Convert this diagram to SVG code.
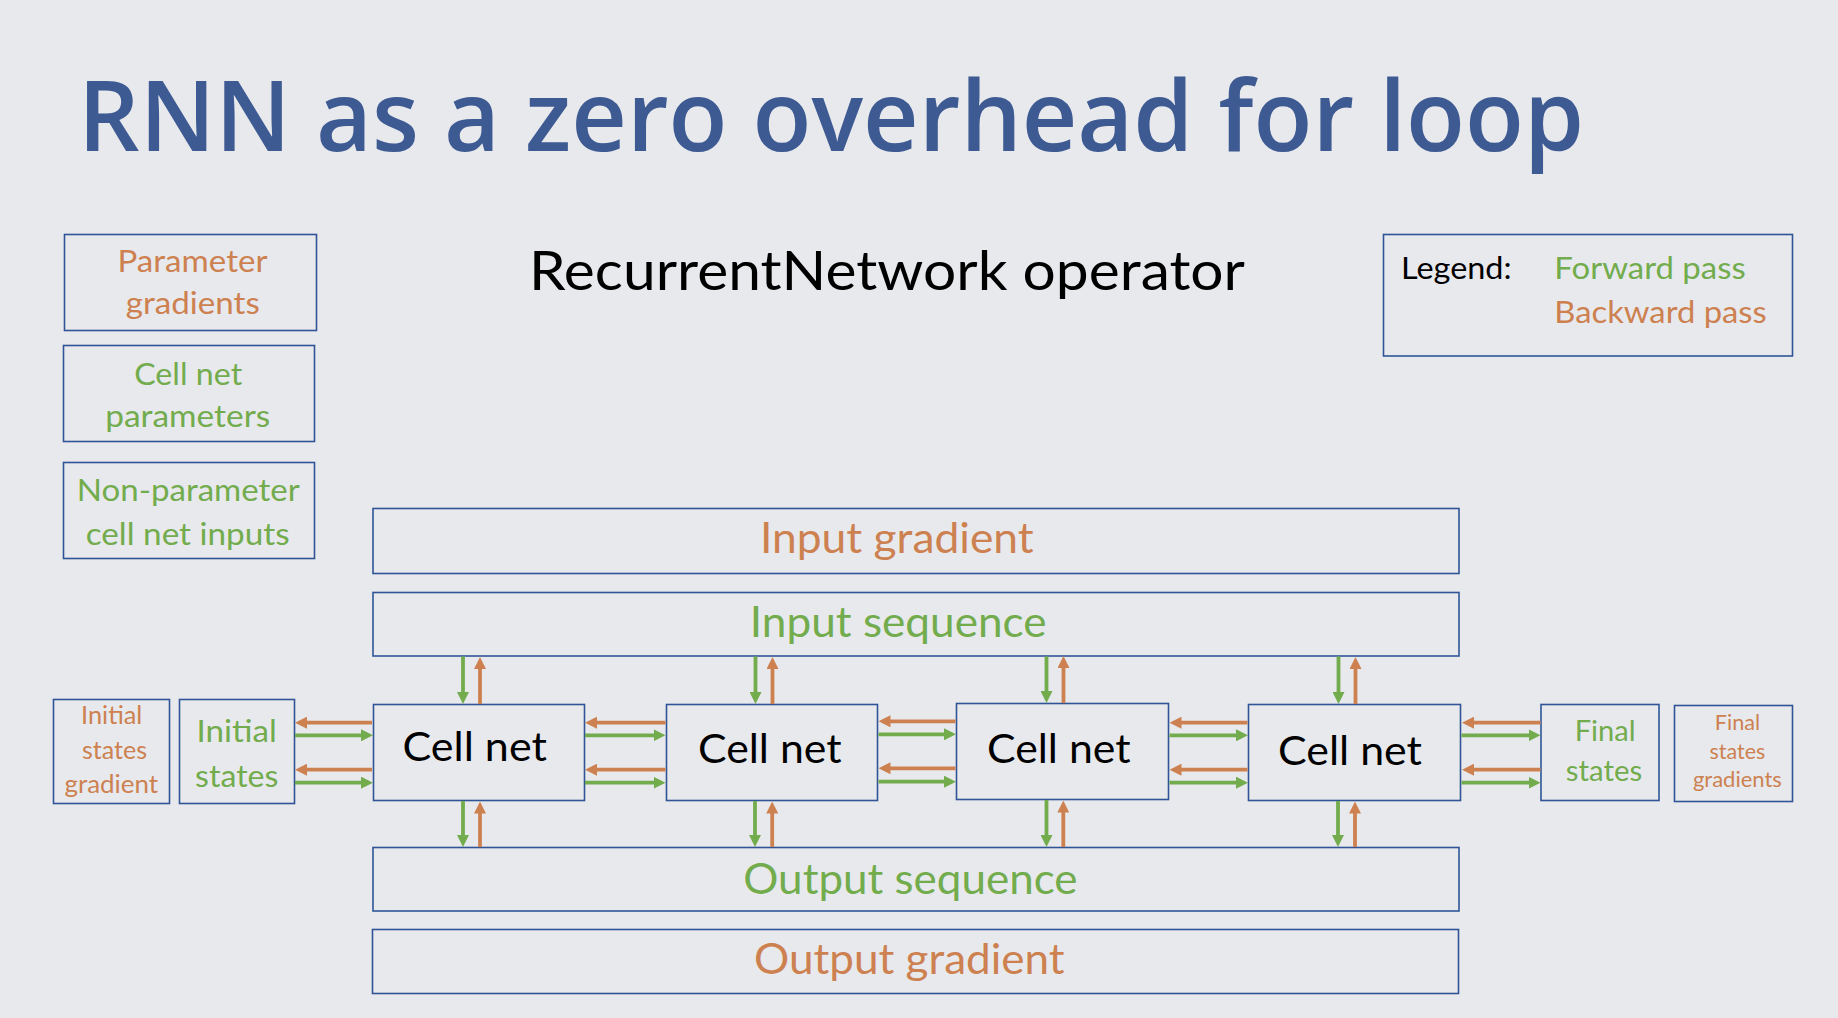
<svg xmlns="http://www.w3.org/2000/svg" width="1838" height="1018" viewBox="0 0 1838 1018">
<defs>
<style>
.bx{fill:none;stroke:#2F5597;stroke-width:1.6}
.t{font-family:Lato,"Liberation Sans",sans-serif;text-anchor:middle}
.g{fill:#72AC4D}
.o{fill:#CD8150}
.k{fill:#000}
.fw{stroke:#72AC4D;stroke-width:3.8;fill:none;marker-end:url(#ag)}
.bw{stroke:#CD8150;stroke-width:3.8;fill:none;marker-end:url(#ao)}
</style>
<marker id="ag" markerUnits="userSpaceOnUse" viewBox="0 0 12 12" markerWidth="12" markerHeight="12" refX="4" refY="6" orient="auto"><path d="M0,0 L12,6 L0,12 z" fill="#72AC4D"/></marker>
<marker id="ao" markerUnits="userSpaceOnUse" viewBox="0 0 12 12" markerWidth="12" markerHeight="12" refX="4" refY="6" orient="auto"><path d="M0,0 L12,6 L0,12 z" fill="#CD8150"/></marker>
</defs>
<rect width="1838" height="1018" fill="#E8E9ED"/>

<text x="78" y="151" font-family="'Open Sans',Lato,sans-serif" font-weight="600" font-size="98" fill="#3E5A92" textLength="1506" lengthAdjust="spacingAndGlyphs">RNN as a zero overhead for loop</text>

<text class="t k" x="887" y="289.5" font-size="54" textLength="716" lengthAdjust="spacingAndGlyphs">RecurrentNetwork operator</text>

<g id="param-gradients">
<rect class="bx" x="64.5" y="234.5" width="252" height="96"/>
<text class="t o" x="192.5" y="271.5" font-size="31.5" textLength="150" lengthAdjust="spacingAndGlyphs">Parameter</text>
<text class="t o" x="192.8" y="313.5" font-size="31.5" textLength="134" lengthAdjust="spacingAndGlyphs">gradients</text>
</g>
<g id="cell-net-params">
<rect class="bx" x="63.5" y="345.5" width="251" height="96"/>
<text class="t g" x="188.2" y="384.5" font-size="31.5" textLength="108" lengthAdjust="spacingAndGlyphs">Cell net</text>
<text class="t g" x="187.7" y="427" font-size="31.5" textLength="165" lengthAdjust="spacingAndGlyphs">parameters</text>
</g>
<g id="non-param-inputs">
<rect class="bx" x="63.5" y="462.5" width="251" height="96"/>
<text class="t g" x="188.3" y="501.2" font-size="31.5" textLength="223" lengthAdjust="spacingAndGlyphs">Non-parameter</text>
<text class="t g" x="187.7" y="544.5" font-size="31.5" textLength="204" lengthAdjust="spacingAndGlyphs">cell net inputs</text>
</g>
<g id="legend">
<rect class="bx" x="1383.5" y="234.5" width="409" height="121.5"/>
<text class="t k" x="1456.3" y="279.3" font-size="31.5" textLength="110.7" lengthAdjust="spacingAndGlyphs">Legend:</text>
<text class="t g" x="1650" y="279.3" font-size="31.5" textLength="191.4" lengthAdjust="spacingAndGlyphs">Forward pass</text>
<text class="t o" x="1660.5" y="322.5" font-size="31.5" textLength="212.4" lengthAdjust="spacingAndGlyphs">Backward pass</text>
</g>

<g id="input-gradient">
<rect class="bx" x="373" y="508.5" width="1086" height="65"/>
<text class="t o" x="896.8" y="553" font-size="42" textLength="273.7" lengthAdjust="spacingAndGlyphs">Input gradient</text>
</g>
<g id="input-sequence">
<rect class="bx" x="373" y="592.5" width="1086" height="63.5"/>
<text class="t g" x="898.2" y="637" font-size="42" textLength="296.8" lengthAdjust="spacingAndGlyphs">Input sequence</text>
</g>
<g id="output-sequence">
<rect class="bx" x="373" y="847.5" width="1086" height="63.5"/>
<text class="t g" x="910.4" y="893.5" font-size="42" textLength="334.3" lengthAdjust="spacingAndGlyphs">Output sequence</text>
</g>
<g id="output-gradient">
<rect class="bx" x="372.5" y="929.5" width="1086" height="64"/>
<text class="t o" x="909.3" y="973.5" font-size="42" textLength="310.6" lengthAdjust="spacingAndGlyphs">Output gradient</text>
</g>

<g id="initial-states-gradient">
<rect class="bx" x="53.5" y="699.5" width="116" height="104"/>
<text class="t o" x="111.7" y="723.8" font-size="24.5" textLength="61.3" lengthAdjust="spacingAndGlyphs">Initial</text>
<text class="t o" x="114.5" y="758.8" font-size="24.5" textLength="65.2" lengthAdjust="spacingAndGlyphs">states</text>
<text class="t o" x="111.3" y="793.2" font-size="24.5" textLength="93.7" lengthAdjust="spacingAndGlyphs">gradient</text>
</g>
<g id="initial-states">
<rect class="bx" x="179.5" y="699.5" width="115" height="104"/>
<text class="t g" x="236.6" y="742" font-size="31.5" textLength="80.3" lengthAdjust="spacingAndGlyphs">Initial</text>
<text class="t g" x="236.7" y="787" font-size="31.5" textLength="83.4" lengthAdjust="spacingAndGlyphs">states</text>
</g>
<g id="cell-net-1">
<rect class="bx" x="373.5" y="704.5" width="211" height="96"/>
<text class="t k" x="474.7" y="761" font-size="41" textLength="144.4" lengthAdjust="spacingAndGlyphs">Cell net</text>
</g>
<g id="cell-net-2">
<rect class="bx" x="666.5" y="704.5" width="211" height="96"/>
<text class="t k" x="769.8" y="763.3" font-size="41" textLength="143.6" lengthAdjust="spacingAndGlyphs">Cell net</text>
</g>
<g id="cell-net-3">
<rect class="bx" x="956.5" y="703.5" width="212" height="96"/>
<text class="t k" x="1058.8" y="762.7" font-size="41" textLength="143.6" lengthAdjust="spacingAndGlyphs">Cell net</text>
</g>
<g id="cell-net-4">
<rect class="bx" x="1248.5" y="704.5" width="212" height="96"/>
<text class="t k" x="1350" y="765.3" font-size="41" textLength="143.9" lengthAdjust="spacingAndGlyphs">Cell net</text>
</g>
<g id="final-states">
<rect class="bx" x="1541" y="704.5" width="118" height="96"/>
<text class="t g" x="1605.2" y="740.5" font-size="28" textLength="61" lengthAdjust="spacingAndGlyphs">Final</text>
<text class="t g" x="1604" y="780.5" font-size="28" textLength="76.3" lengthAdjust="spacingAndGlyphs">states</text>
</g>
<g id="final-states-gradients">
<rect class="bx" x="1674.5" y="705.5" width="118" height="96"/>
<text class="t o" x="1737.4" y="730.3" font-size="21" textLength="45.3" lengthAdjust="spacingAndGlyphs">Final</text>
<text class="t o" x="1737.4" y="759" font-size="21" textLength="55.7" lengthAdjust="spacingAndGlyphs">states</text>
<text class="t o" x="1737.4" y="787" font-size="21" textLength="89" lengthAdjust="spacingAndGlyphs">gradients</text>
</g>

<g id="connectors">
<path class="bw" d="M372,722.7 H303"/>
<path class="fw" d="M295,735.3 H365"/>
<path class="bw" d="M372,769.7 H303"/>
<path class="fw" d="M295,782.7 H365"/>
<path class="bw" d="M665.5,722.7 H593"/>
<path class="fw" d="M585,735.3 H657.5"/>
<path class="bw" d="M665.5,769.7 H593"/>
<path class="fw" d="M585,782.7 H657.5"/>
<path class="bw" d="M955.5,721.3 H886.5"/>
<path class="fw" d="M878.5,734.3 H948"/>
<path class="bw" d="M955.5,768.3 H886.5"/>
<path class="fw" d="M878.5,781.7 H948"/>
<path class="bw" d="M1247.5,722.7 H1177.5"/>
<path class="fw" d="M1169.5,735.3 H1240"/>
<path class="bw" d="M1247.5,769.7 H1177.5"/>
<path class="fw" d="M1169.5,782.7 H1240"/>
<path class="bw" d="M1540.5,722.7 H1470"/>
<path class="fw" d="M1461.5,735.3 H1532.5"/>
<path class="bw" d="M1540.5,769.7 H1470"/>
<path class="fw" d="M1461.5,782.7 H1532.5"/>
<path class="fw" d="M463,656.5 V696"/>
<path class="bw" d="M480,704 V665"/>
<path class="fw" d="M755.5,656.5 V696"/>
<path class="bw" d="M772.5,704 V665"/>
<path class="fw" d="M1046.5,656.5 V695"/>
<path class="bw" d="M1063.5,703 V664"/>
<path class="fw" d="M1338.5,656.5 V696"/>
<path class="bw" d="M1355.5,704 V665"/>
<path class="fw" d="M463,801 V839"/>
<path class="bw" d="M480,847 V809.5"/>
<path class="fw" d="M755,801 V839"/>
<path class="bw" d="M772.2,847 V809.5"/>
<path class="fw" d="M1046.5,800 V839"/>
<path class="bw" d="M1063.3,847 V808.5"/>
<path class="fw" d="M1338,801 V839"/>
<path class="bw" d="M1355,847 V809.5"/>
</g>
</svg>
